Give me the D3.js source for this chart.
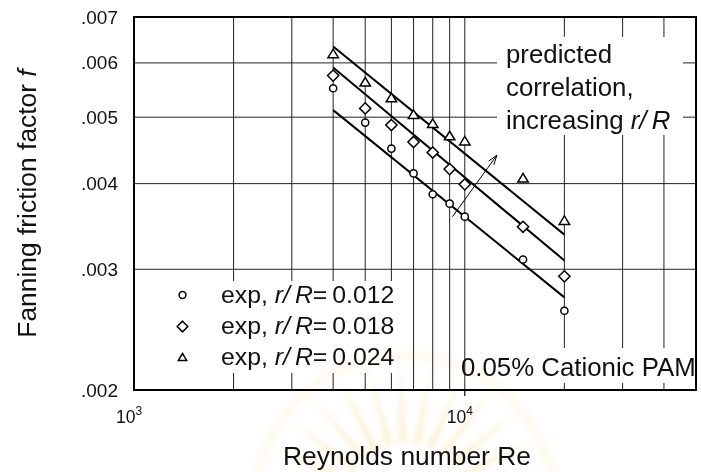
<!DOCTYPE html>
<html>
<head>
<meta charset="utf-8">
<script src="https://cdn.jsdelivr.net/npm/d3@7"></script>
<style>
  html, body { margin: 0; padding: 0; background: #fff; }
  svg { display: block; font-family: "Liberation Sans", Arial, Helvetica, sans-serif; }
</style>
</head>
<body>
<svg id="chart" width="701" height="472"></svg>
<script>
// Fanning friction factor vs Reynolds number, 0.05% cationic PAM
const reExp   = [4000, 5000, 6000, 7000, 8000, 9000, 10000, 15000, 20000];
const f012    = [0.00551, 0.00491, 0.00450, 0.00414, 0.00386, 0.00374, 0.00358, 0.00310, 0.00261];
const f018    = [0.00575, 0.00515, 0.00487, 0.00460, 0.00444, 0.00420, 0.00399, 0.00346, 0.00293];
const f024    = [0.00618, 0.00562, 0.00533, 0.00504, 0.00489, 0.00469, 0.00461, 0.00407, 0.00353];

// predicted correlation, end points of each line
const reFit   = [4000, 20000];
const fit012  = [0.00512, 0.00273];
const fit018  = [0.00591, 0.00309];
const fit024  = [0.00634, 0.00337];

// arrow "increasing r/R"
const arrowRe = [9180, 12500];
const arrowF  = [0.00358, 0.00440];

const seriesNames = ["0.012", "0.018", "0.024"];
const reDomain = [1000, 50000];
const fDomain  = [0.002, 0.007];
const reGrid   = [2000, 3000, 4000, 5000, 6000, 7000, 8000, 9000, 10000, 20000, 30000, 40000];
const reMajor  = [1000, 10000];
const reMajorExp = ["3", "4"];
const fTicks   = [0.002, 0.003, 0.004, 0.005, 0.006, 0.007];
const fTickLabels = [".002", ".003", ".004", ".005", ".006", ".007"];

const svg = d3.select("#chart");
const L = 134, R = 696, T = 17, B = 390;

const x = d3.scaleLog().domain(reDomain).range([L, R]);
const y = d3.scaleLog().domain(fDomain).range([B, T]);

const defs = svg.append("defs");
defs.append("filter").attr("id", "soft")
  .attr("x", "-20%").attr("y", "-20%").attr("width", "140%").attr("height", "140%")
  .append("feGaussianBlur").attr("stdDeviation", 2.5);

const g = svg.append("g");

// grid
g.selectAll("line.vg").data(reGrid).join("line")
  .attr("x1", d => x(d)).attr("x2", d => x(d))
  .attr("y1", T).attr("y2", B)
  .attr("stroke", "#222").attr("stroke-width", 1);
g.selectAll("line.hg").data(fTicks.slice(1, -1)).join("line")
  .attr("x1", L).attr("x2", R)
  .attr("y1", d => y(d)).attr("y2", d => y(d))
  .attr("stroke", "#222").attr("stroke-width", 1);

// white panels behind the text blocks
g.append("rect").attr("x", 497).attr("y", 37).attr("width", 186).attr("height", 98).attr("fill", "#fff");
g.append("rect").attr("x", 136).attr("y", 281).attr("width", 264).attr("height", 92).attr("fill", "#fff");
g.append("rect").attr("x", 466).attr("y", 348).attr("width", 228).attr("height", 35).attr("fill", "#fff");

// outward major tick at 10^4
g.append("line")
  .attr("x1", x(10000)).attr("x2", x(10000))
  .attr("y1", B).attr("y2", B + 6)
  .attr("stroke", "#000").attr("stroke-width", 1.2);

// frame
g.append("rect").attr("x", L).attr("y", T).attr("width", R - L).attr("height", B - T)
  .attr("fill", "none").attr("stroke", "#000").attr("stroke-width", 2);

// y tick labels
g.selectAll("text.yt").data(fTicks).join("text")
  .attr("x", 118).attr("y", d => y(d) + 6.5)
  .attr("text-anchor", "end").attr("font-size", 19)
  .attr("fill", "#111")
  .text((d, i) => fTickLabels[i]);

// x tick labels (10^n)
const xt = g.selectAll("text.xt").data(reMajor).join("text")
  .attr("x", d => x(d) - 5).attr("y", 423)
  .attr("text-anchor", "middle").attr("font-size", 17.5)
  .attr("fill", "#111");
xt.append("tspan").text("10");
xt.append("tspan").attr("dy", -8).attr("font-size", 12).text((d, i) => reMajorExp[i]);

// axis titles
g.append("text").attr("x", 407).attr("y", 465)
  .attr("text-anchor", "middle").attr("font-size", 26.4).attr("fill", "#111")
  .text("Reynolds number Re");
const yt = g.append("text")
  .attr("transform", `translate(36,${(T + B) / 2}) rotate(-90)`)
  .attr("text-anchor", "middle").attr("font-size", 26.4).attr("fill", "#111");
yt.append("tspan").text("Fanning friction factor ");
yt.append("tspan").attr("font-style", "italic").text("f");

// correlation lines
const line = d3.line().x(d => x(d[0])).y(d => y(d[1]));
[fit012, fit018, fit024].forEach(fv => {
  g.append("path").datum(reFit.map((r, i) => [r, fv[i]]))
    .attr("d", line).attr("fill", "none")
    .attr("stroke", "#000").attr("stroke-width", 2);
});

// arrow
const ax1 = x(arrowRe[0]), ay1 = y(arrowF[0]), ax2 = x(arrowRe[1]), ay2 = y(arrowF[1]);
g.append("line").attr("x1", ax1).attr("y1", ay1).attr("x2", ax2).attr("y2", ay2)
  .attr("stroke", "#000").attr("stroke-width", 1);
{
  const ang = Math.atan2(ay2 - ay1, ax2 - ax1), len = 10, sp = 0.33;
  const p = [
    [ax2 - len * Math.cos(ang - sp), ay2 - len * Math.sin(ang - sp)],
    [ax2, ay2],
    [ax2 - len * Math.cos(ang + sp), ay2 - len * Math.sin(ang + sp)]
  ];
  g.append("path").attr("d", d3.line()(p)).attr("fill", "none")
    .attr("stroke", "#000").attr("stroke-width", 1);
}

// markers
function marker(sel, i, cx, cy, k = 1) {
  if (i === 0) {
    sel.append("circle").attr("cx", cx).attr("cy", cy).attr("r", 3.6 * k)
      .attr("fill", "#fff").attr("stroke", "#000").attr("stroke-width", 1.5);
  } else if (i === 1) {
    const s = 5.6 * k;
    sel.append("path").attr("d", `M${cx},${cy - s}L${cx + s},${cy}L${cx},${cy + s}L${cx - s},${cy}Z`)
      .attr("fill", "#fff").attr("stroke", "#000").attr("stroke-width", 1.5);
  } else {
    const w = 5.2 * k, h = 8.6 * k;
    sel.append("path").attr("d", `M${cx},${cy - h * 0.58}L${cx + w},${cy + h * 0.42}L${cx - w},${cy + h * 0.42}Z`)
      .attr("fill", "#fff").attr("stroke", "#000").attr("stroke-width", 1.5);
  }
}
[f012, f018, f024].forEach((fv, i) => {
  const mg = g.append("g");
  reExp.forEach((r, k) => marker(mg, i, x(r), y(fv[k])));
});

// legend
const legY = [295, 326.5, 357.5];
seriesNames.forEach((name, i) => {
  marker(g, i, 182.5, legY[i], i === 2 ? 0.8 : 0.95);
  const t = g.append("text").attr("x", 221).attr("y", legY[i] + 7.5)
    .attr("font-size", 24.8).attr("fill", "#111");
  t.append("tspan").text("exp, ");
  t.append("tspan").attr("font-style", "italic").text("r/\u2009R");
  t.append("tspan").text("=\u2009" + name);
});

// annotation
const ann = g.append("text").attr("font-size", 25.8).attr("fill", "#111");
ann.append("tspan").attr("x", 506).attr("y", 63).text("predicted");
ann.append("tspan").attr("x", 506).attr("y", 96).text("correlation,");
ann.append("tspan").attr("x", 506).attr("y", 128.5).text("increasing ");
ann.append("tspan").attr("font-style", "italic").text("r/\u2009R");

g.append("text").attr("x", 461).attr("y", 376)
  .attr("font-size", 25.8).attr("fill", "#111")
  .text("0.05% Cationic PAM");

// faint sunburst emblem in the lower centre
const wm = svg.append("g").attr("transform", "translate(405,505)")
  .style("mix-blend-mode", "multiply").attr("opacity", 0.28)
  .attr("filter", "url(#soft)");
d3.range(-170, -10, 13).forEach(a => {
  const r0 = 62, r1 = 150, da = 4.5 * Math.PI / 180, t = a * Math.PI / 180;
  wm.append("path")
    .attr("d", `M${r0 * Math.cos(t - da)},${r0 * Math.sin(t - da)}L${r1 * Math.cos(t)},${r1 * Math.sin(t)}L${r0 * Math.cos(t + da)},${r0 * Math.sin(t + da)}Z`)
    .attr("fill", "#efd98c");
});
wm.append("circle").attr("r", 150).attr("fill", "none").attr("stroke", "#f3e3a8").attr("stroke-width", 10).attr("opacity", 0.6);
</script>
</body>
</html>
